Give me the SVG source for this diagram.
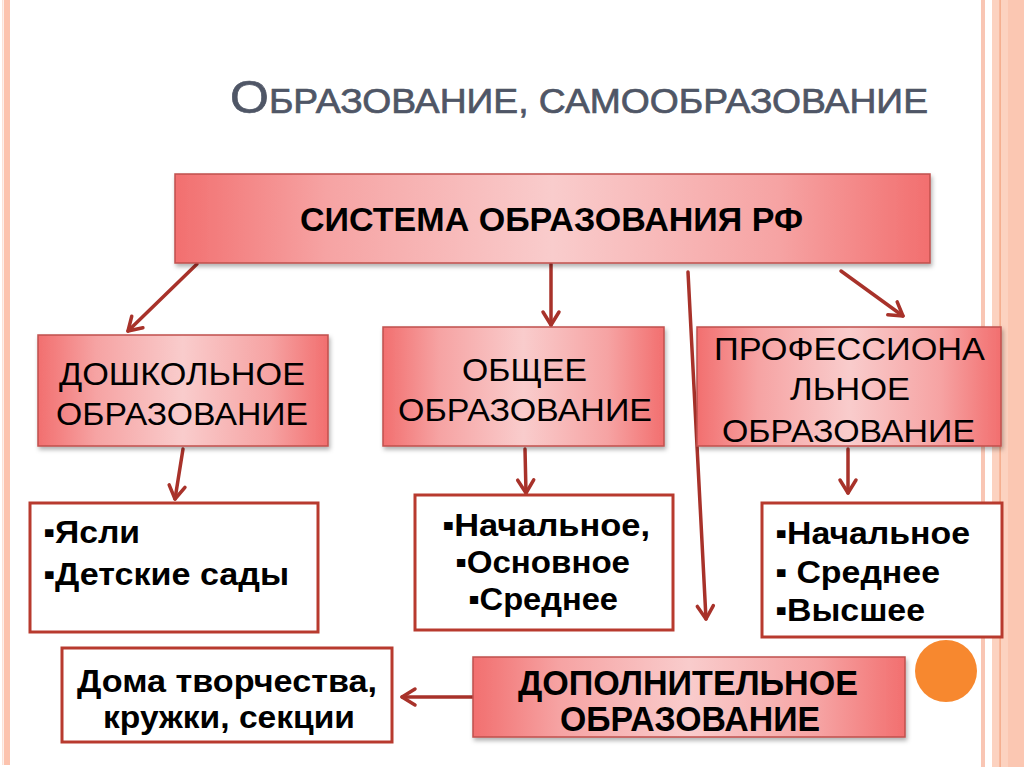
<svg xmlns="http://www.w3.org/2000/svg" width="1024" height="767" viewBox="0 0 1024 767">
<style>
.t{font-family:"Liberation Sans",Arial,sans-serif;fill:#000}
.b{font-weight:bold}
.title{font-family:"Liberation Sans Narrow","Liberation Sans",Arial,sans-serif;fill:#4f5666;stroke:#4f5666;stroke-width:0.7}
.gbox{fill:url(#g);stroke:#c0504d;stroke-width:1.5;filter:url(#sh)}
.wbox{fill:#fff;stroke:#b83a2e;stroke-width:3}
.ar{fill:none;stroke:#a8322a;stroke-width:3.5;stroke-linecap:round;marker-end:url(#ah)}
</style>
<defs>
<linearGradient id="g" x1="0" y1="0" x2="1" y2="0">
<stop offset="0" stop-color="#f26f6f"/>
<stop offset="0.2" stop-color="#f6a3a3"/>
<stop offset="0.5" stop-color="#f9cccc"/>
<stop offset="0.8" stop-color="#f6a3a3"/>
<stop offset="1" stop-color="#f26f6f"/>
</linearGradient>
<filter id="sh" x="-5%" y="-10%" width="115%" height="130%">
<feDropShadow dx="1.5" dy="3" stdDeviation="2" flood-color="#000" flood-opacity="0.3"/>
</filter>
<marker id="ah" viewBox="-16 -11 19 22" refX="0" refY="0" markerWidth="19" markerHeight="22" markerUnits="userSpaceOnUse" orient="auto">
<path d="M-13,-8 L0,0 L-13,8" fill="none" stroke="#a8322a" stroke-width="3.5" stroke-linecap="round" stroke-linejoin="round"/>
</marker>
</defs>
<rect width="1024" height="767" fill="#fff"/>
<g id="frame">
<rect x="2" y="0" width="1.5" height="765" fill="#fbe2d8"/>
<rect x="4" y="0" width="6" height="765" fill="#fcc3ae"/>
<rect x="981" y="0" width="4" height="767" fill="#f9c6b4"/>
<rect x="992" y="0" width="32" height="767" fill="#fcd2c0"/>
<rect x="1008" y="0" width="16" height="767" fill="#fbc7b2"/>
<rect x="999.5" y="0" width="1.2" height="767" fill="#f2a07c"/>
<circle cx="946" cy="671" r="31" fill="#f7882f"/>
</g>
<g id="title">
<text class="title" x="230" y="113" textLength="698" lengthAdjust="spacingAndGlyphs"><tspan font-size="47">О</tspan><tspan font-size="35">БРАЗОВАНИЕ, САМООБРАЗОВАНИЕ</tspan></text>
</g>
<g id="connectors">
<path class="ar" d="M197,264 L128,331"/>
<path class="ar" d="M551,264 L551,325"/>
<path class="ar" d="M688,272 L706,619"/>
<path class="ar" d="M841,271 L903,316"/>
<path class="ar" d="M183,449 L175,499"/>
<path class="ar" d="M525,449 L526,493"/>
<path class="ar" d="M848,449 L848,493"/>
<path class="ar" d="M473,697 L402,697"/>
</g>
<g id="n-system">
<rect class="gbox" x="175" y="174" width="755" height="89"/>
<text class="t b" x="300" y="231" font-size="34" textLength="503" lengthAdjust="spacingAndGlyphs">СИСТЕМА ОБРАЗОВАНИЯ РФ</text>
</g>
<g id="n-preschool">
<rect class="gbox" x="38" y="335" width="290" height="111"/>
<text class="t" x="59" y="385" font-size="32" textLength="246" lengthAdjust="spacingAndGlyphs">ДОШКОЛЬНОЕ</text>
<text class="t" x="56" y="425" font-size="32" textLength="252" lengthAdjust="spacingAndGlyphs">ОБРАЗОВАНИЕ</text>
</g>
<g id="n-general">
<rect class="gbox" x="383" y="327" width="281" height="119"/>
<text class="t" x="462" y="381" font-size="32" textLength="125" lengthAdjust="spacingAndGlyphs">ОБЩЕЕ</text>
<text class="t" x="398" y="421" font-size="32" textLength="254" lengthAdjust="spacingAndGlyphs">ОБРАЗОВАНИЕ</text>
</g>
<g id="n-professional">
<rect class="gbox" x="697" y="327" width="304" height="119"/>
<text class="t" x="714" y="360" font-size="32" textLength="271" lengthAdjust="spacingAndGlyphs">ПРОФЕССИОНА</text>
<text class="t" x="790" y="400" font-size="32" textLength="120" lengthAdjust="spacingAndGlyphs">ЛЬНОЕ</text>
<text class="t" x="722" y="442" font-size="32" textLength="253" lengthAdjust="spacingAndGlyphs">ОБРАЗОВАНИЕ</text>
</g>
<g id="n-preschool-list">
<rect class="wbox" x="30" y="503" width="288" height="129"/>
<text class="t b" x="43" y="543" font-size="31" textLength="97" lengthAdjust="spacingAndGlyphs">▪Ясли</text>
<text class="t b" x="43" y="585" font-size="31" textLength="246" lengthAdjust="spacingAndGlyphs">▪Детские сады</text>
</g>
<g id="n-general-list">
<rect class="wbox" x="415" y="495" width="258" height="135"/>
<text class="t b" x="442" y="536" font-size="32" textLength="208" lengthAdjust="spacingAndGlyphs">▪Начальное,</text>
<text class="t b" x="455" y="573" font-size="32" textLength="175" lengthAdjust="spacingAndGlyphs">▪Основное</text>
<text class="t b" x="468" y="610" font-size="32" textLength="150" lengthAdjust="spacingAndGlyphs">▪Среднее</text>
</g>
<g id="n-professional-list">
<rect class="wbox" x="762" y="503" width="240" height="134"/>
<text class="t b" x="775" y="544" font-size="31" textLength="195" lengthAdjust="spacingAndGlyphs">▪Начальное</text>
<text class="t b" x="775" y="583" font-size="31" textLength="165" lengthAdjust="spacingAndGlyphs">▪ Среднее</text>
<text class="t b" x="775" y="621" font-size="31" textLength="150" lengthAdjust="spacingAndGlyphs">▪Высшее</text>
</g>
<g id="n-clubs">
<rect class="wbox" x="62" y="648" width="330" height="94"/>
<text class="t b" x="77" y="692" font-size="31" textLength="300" lengthAdjust="spacingAndGlyphs">Дома творчества,</text>
<text class="t b" x="103" y="728" font-size="31" textLength="252" lengthAdjust="spacingAndGlyphs">кружки, секции</text>
</g>
<g id="n-additional">
<rect class="gbox" x="473" y="657" width="432" height="80"/>
<text class="t b" x="518" y="695" font-size="35" textLength="340" lengthAdjust="spacingAndGlyphs">ДОПОЛНИТЕЛЬНОЕ</text>
<text class="t b" x="560" y="731" font-size="35" textLength="260" lengthAdjust="spacingAndGlyphs">ОБРАЗОВАНИЕ</text>
</g>
</svg>
